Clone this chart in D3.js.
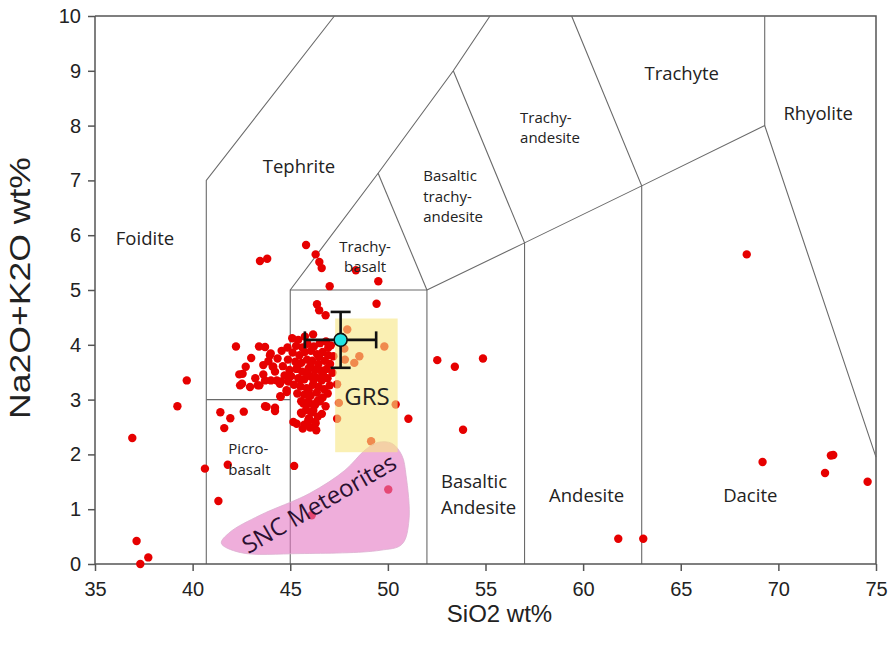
<!DOCTYPE html>
<html>
<head>
<meta charset="utf-8">
<script src="https://cdn.jsdelivr.net/npm/d3@7"></script>
<style>
  body { margin: 0; background: #fff; }
  .axis text { font-family: "Liberation Sans Narrow", "Liberation Sans", Arial, sans-serif; font-size: 20px; fill: #222; }
  .axis path, .axis line { stroke: #555; stroke-width: 1.5; }
  .field { font-family: "Open Sans", "Noto Sans", sans-serif; fill: #222; }
</style>
</head>
<body>
<script>
// Tick values for both axes
var xTicks = [35, 40, 45, 50, 55, 60, 65, 70, 75];
var yTicks = [0, 1, 2, 3, 4, 5, 6, 7, 8, 9, 10];

// Sample analyses (SiO2 wt%, Na2O+K2O wt%)
var samples = [
  [39.70, 3.35], [39.22, 2.88], [36.91, 2.30], [40.63, 1.74], [41.80, 1.81], [41.32, 1.15],
  [37.13, 0.42], [37.73, 0.12], [37.32, 0.00],
  [41.42, 2.77], [41.93, 2.66], [41.62, 2.48], [42.62, 2.78],
  [42.22, 3.97], [43.00, 3.76], [42.72, 3.60], [42.39, 3.46], [42.56, 3.47], [43.21, 3.39],
  [42.43, 3.26], [42.53, 3.29], [42.94, 3.23], [43.33, 3.26],
  [43.71, 2.88], [44.22, 2.85], [44.22, 2.79], [44.49, 3.06], [44.82, 3.14], [45.20, 1.79],
  [45.33, 2.56], [45.64, 2.47], [45.92, 2.62], [46.30, 2.57], [45.55, 2.76], [46.18, 2.80],
  [46.38, 2.96], [46.00, 2.93],
  [43.40, 3.97], [44.00, 3.84], [43.88, 3.70], [44.10, 3.60], [43.62, 3.46], [44.01, 3.35],
  [43.42, 3.26], [44.53, 3.33], [44.90, 3.33], [44.81, 3.17], [44.51, 3.05],
  [45.81, 5.82], [43.45, 5.53], [43.82, 5.57], [46.30, 5.65], [46.49, 5.51], [46.61, 5.40],
  [48.36, 5.36], [49.51, 5.16], [47.02, 5.07], [49.42, 4.75], [46.37, 4.74], [46.48, 4.63],
  [46.81, 4.54], [46.17, 4.19], [45.41, 4.09],
  [52.53, 3.72], [54.87, 3.75], [53.43, 3.60], [53.85, 2.45], [51.05, 2.65],
  [47.92, 4.28], [47.77, 3.93], [48.54, 3.79], [48.28, 3.67], [47.80, 3.73], [49.82, 3.97],
  [47.40, 3.28], [47.49, 2.94], [50.40, 2.91], [47.40, 2.65], [49.14, 2.24],
  [50.02, 1.36], [46.10, 0.89],
  [68.38, 5.65], [61.80, 0.46], [63.08, 0.46], [69.19, 1.86], [72.69, 1.98], [72.81, 1.99],
  [72.39, 1.66], [74.57, 1.50],
  [43.71, 3.96], [43.96, 3.81], [43.62, 3.63], [44.13, 3.60], [43.71, 3.35], [44.31, 3.35],
  [43.79, 2.87], [45.16, 2.59], [45.59, 2.74], [45.67, 2.93], [46.27, 2.90], [46.44, 2.99],
  [46.27, 2.59],
  // dense core of the cluster
  [45.30, 3.98], [45.62, 3.95], [45.88, 4.02], [46.21, 3.97], [46.52, 4.03], [46.83, 4.06],
  [47.08, 3.99], [45.12, 3.86], [45.47, 3.81], [45.74, 3.87], [46.06, 3.89], [46.37, 3.83],
  [46.66, 3.87], [46.94, 3.81], [47.21, 3.79], [44.88, 3.73], [45.26, 3.69], [45.57, 3.67],
  [45.86, 3.73], [46.13, 3.71], [46.44, 3.65], [46.77, 3.71], [47.04, 3.65], [44.62, 3.61],
  [44.96, 3.54], [45.31, 3.56], [45.61, 3.51], [45.94, 3.57], [46.26, 3.54], [46.57, 3.53],
  [46.86, 3.56], [47.16, 3.49], [44.71, 3.44], [45.04, 3.43], [45.41, 3.39], [45.72, 3.37],
  [46.01, 3.43], [46.32, 3.41], [46.61, 3.35], [46.91, 3.39], [45.19, 3.27], [45.52, 3.24],
  [45.84, 3.21], [46.16, 3.27], [46.46, 3.23], [46.74, 3.19], [47.02, 3.26], [45.36, 3.11],
  [45.71, 3.09], [46.04, 3.07], [46.36, 3.13], [46.66, 3.04], [46.92, 3.11], [45.56, 2.97],
  [45.91, 2.96], [46.21, 2.91], [46.52, 2.97], [46.81, 2.88], [45.81, 2.81], [46.09, 2.77],
  [46.62, 2.74], [45.96, 2.66], [46.41, 2.69], [46.02, 2.49], [45.72, 2.54], [46.33, 2.44],
  [44.35, 3.75], [44.56, 3.89], [44.22, 3.51], [44.47, 3.29], [44.86, 3.95], [45.10, 4.12],
  [45.75, 4.15], [45.52, 3.36], [46.20, 3.35], [45.95, 3.16], [46.68, 3.45], [45.38, 3.62],
  [46.04, 3.62], [46.95, 3.95], [45.86, 3.47], [46.47, 3.78]
];

// GRS average with its error bars
var grsX = [47.3, 50.5];
var grsY = [2.04, 4.48];
var grsMean = [47.58, 4.09];
var grsErrX = [45.75, 49.4];
var grsErrY = [3.58, 4.6];

// outline of the SNC meteorite field
var sncOutline = [
  [41.47, 0.38], [42.43, 0.21], [45.5, 0.19], [49.6, 0.25], [50.72, 0.36], [51.08, 0.8],
  [50.93, 1.62], [50.72, 1.98], [50.21, 2.2], [49.49, 2.22], [48.83, 2.08], [47.8, 1.71],
  [46.0, 1.29], [43.45, 0.89], [41.91, 0.58]
];

// TAS field boundaries
var fieldLines = [
  [[40.7, 0], [40.7, 7], [47.26, 10]],
  [[40.7, 3], [45, 3]],
  [[45, 0], [45, 5], [52, 5], [52, 0]],
  [[45, 5], [49.5, 7.13], [53.35, 9.0], [55.23, 10]],
  [[49.5, 7.13], [52, 5]],
  [[52, 5], [57, 5.86], [63, 6.9], [69.3, 8], [75, 1.95]],
  [[57, 0], [57, 5.86], [53.35, 9.0]],
  [[63, 0], [63, 6.9], [59.41, 10]],
  [[69.3, 8], [69.3, 10]]
];

// field names: text lines, anchor point (data coords)
var fieldNames = [
  { lines: ["Foidite"], x: 37.56, y: 5.96, big: true },
  { lines: ["Tephrite"], x: 45.45, y: 7.28, big: true },
  { lines: ["Trachyte"], x: 65.05, y: 8.98, big: true },
  { lines: ["Rhyolite"], x: 72.04, y: 8.25, big: true },
  { lines: ["Andesite"], x: 60.18, y: 1.28, big: true },
  { lines: ["Dacite"], x: 68.56, y: 1.28, big: true },
  { lines: ["Basaltic", "Andesite"], x: 52.72, y: 1.53, big: true, left: true },
  { lines: ["Trachy-", "basalt"], x: 48.83, y: 5.81 },
  { lines: ["Basaltic", "trachy-", "andesite"], x: 51.81, y: 7.09, left: true },
  { lines: ["Trachy-", "andesite"], x: 56.77, y: 8.16, left: true },
  { lines: ["Picro-", "basalt"], x: 41.83, y: 2.11, left: true }
];

var W = 889, H = 652;
var margin = { top: 16, right: 13, bottom: 88, left: 95 },
  width = W - margin.left - margin.right,
  height = H - margin.top - margin.bottom;

var x = d3.scaleLinear().domain([35, 75]).range([0, width]);
var y = d3.scaleLinear().domain([0, 10]).range([height, 0]);

var svg = d3.select("body").append("svg").
attr("width", W).
attr("height", H).
append("g").
attr("transform", "translate(" + margin.left + "," + margin.top + ")");

// frame (top and right)
svg.append("path").
attr("d", "M0,0H" + width + "V" + height).
attr("fill", "none").
attr("stroke", "#555").
attr("stroke-width", 1.5);

// field boundaries
var line = d3.line().x(function (d) { return x(d[0]); }).y(function (d) { return y(d[1]); });
svg.selectAll(".fline").
data(fieldLines).
enter().append("path").
attr("class", "fline").
attr("d", line).
attr("fill", "none").
attr("stroke", "#6a6a6a").
attr("stroke-width", 1.1);

// axes
svg.append("g").
attr("class", "axis").
attr("transform", "translate(0," + height + ")").
call(d3.axisBottom(x).tickValues(xTicks).tickSize(7).tickPadding(11)).
select(".domain").remove();
svg.append("line").attr("x1", 0).attr("x2", width).attr("y1", height).attr("y2", height).
attr("stroke", "#555").attr("stroke-width", 1.5);

svg.append("g").
attr("class", "axis").
call(d3.axisLeft(y).tickValues(yTicks).tickSize(7).tickPadding(7)).
select(".domain").remove();
svg.append("line").attr("x1", 0).attr("x2", 0).attr("y1", 0).attr("y2", height).
attr("stroke", "#555").attr("stroke-width", 1.5);

// sample dots
svg.selectAll(".dot").
data(samples).
enter().append("circle").
attr("class", "dot").
attr("r", 4.2).
attr("cx", function (d) { return x(d[0]); }).
attr("cy", function (d) { return y(d[1]); }).
style("fill", "#e60000");

// SNC field
svg.append("path").
datum(sncOutline).
attr("d", line.curve(d3.curveCatmullRomClosed.alpha(0.5))).
attr("fill", "rgb(228,120,195)").
attr("fill-opacity", 0.6).
attr("stroke", "#dcb0d0").
attr("stroke-width", 0.8);

// GRS box
svg.append("rect").
attr("x", x(grsX[0])).
attr("y", y(grsY[1])).
attr("width", x(grsX[1]) - x(grsX[0])).
attr("height", y(grsY[0]) - y(grsY[1])).
attr("fill", "rgb(247,230,130)").
attr("fill-opacity", 0.6);

// field names
fieldNames.forEach(function (f) {
  var fs = f.big ? 18.5 : 15;
  var lh = f.big ? 26 : 20.5;
  var t = svg.append("text").
  attr("class", "field").
  attr("x", x(f.x)).
  attr("y", y(f.y)).
  attr("text-anchor", f.left ? "start" : "middle").
  attr("dominant-baseline", "central").
  style("font-size", fs + "px");
  f.lines.forEach(function (s, i) {
    t.append("tspan").attr("x", x(f.x)).attr("dy", i === 0 ? 0 : lh).text(s);
  });
});

svg.append("text").
attr("class", "field").
attr("x", x(48.93)).
attr("y", y(3.08)).
attr("text-anchor", "middle").
attr("dominant-baseline", "central").
style("font-size", "24px").
text("GRS");

svg.append("text").
attr("class", "field").
attr("transform", "translate(" + x(46.45) + "," + y(1.12) + ") rotate(-30)").
attr("text-anchor", "middle").
attr("dominant-baseline", "central").
style("font-size", "24px").
style("fill", "#2a1030").
text("SNC Meteorites");

// error bars
var eb = svg.append("g").attr("stroke", "#111").attr("stroke-width", 2.6).attr("fill", "none");
eb.append("line").attr("x1", x(grsErrX[0])).attr("x2", x(grsErrX[1])).attr("y1", y(grsMean[1])).attr("y2", y(grsMean[1]));
eb.append("line").attr("x1", x(grsMean[0])).attr("x2", x(grsMean[0])).attr("y1", y(grsErrY[0])).attr("y2", y(grsErrY[1]));
grsErrX.forEach(function (v) {
  eb.append("line").attr("x1", x(v)).attr("x2", x(v)).attr("y1", y(grsMean[1]) - 8.5).attr("y2", y(grsMean[1]) + 8.5);
});
grsErrY.forEach(function (v) {
  eb.append("line").attr("x1", x(grsMean[0]) - 10).attr("x2", x(grsMean[0]) + 10).attr("y1", y(v)).attr("y2", y(v));
});
svg.append("circle").
attr("cx", x(grsMean[0])).
attr("cy", y(grsMean[1])).
attr("r", 6.5).
attr("fill", "#22e3e3").
attr("stroke", "#111").
attr("stroke-width", 1.6);

// axis titles
svg.append("text").
attr("x", width / 2 + 14).
attr("y", height + 58).
attr("text-anchor", "middle").
style("font-family", "'Liberation Sans Narrow', 'Liberation Sans', Arial, sans-serif").
style("font-size", "24px").
style("fill", "#222").
text("SiO2 wt%");

svg.append("text").
attr("transform", "translate(" + (-65) + "," + (y(5) - 2) + ") rotate(-90)").
attr("text-anchor", "middle").
attr("textLength", 262).
attr("lengthAdjust", "spacingAndGlyphs").
style("font-family", "'Liberation Sans Narrow', 'Liberation Sans', Arial, sans-serif").
style("font-size", "30px").
style("fill", "#222").
text("Na2O+K2O wt%");
</script>
</body>
</html>
